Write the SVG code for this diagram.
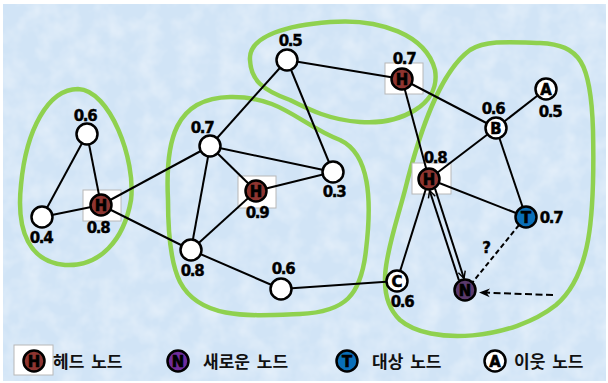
<svg xmlns="http://www.w3.org/2000/svg" width="608" height="383" viewBox="0 0 608 383">
  <style>
    .blob { fill: none; stroke: #8fd14f; stroke-width: 4.5; }
    .edge { stroke: #000; stroke-width: 2; fill: none; }
    .node { fill: #fff; stroke: #000; stroke-width: 2.5; }
    .head { fill: #8e3530; stroke: #000; stroke-width: 2.5; }
    .box { fill: #fff; stroke: #b8b8b8; stroke-width: 1; }
    .lbl { font-family: "DejaVu Sans", "Liberation Sans", sans-serif; font-weight: bold; font-size: 15px; letter-spacing: -1.3px; fill: #000; stroke: #000; stroke-width: 0.4; text-anchor: middle; }
    .ltr { font-family: "DejaVu Sans Condensed", "DejaVu Sans", sans-serif; font-weight: bold; font-size: 16.5px; fill: #000; stroke: #000; stroke-width: 0.6; text-anchor: middle; }
    .legend { font-family: "Noto Sans CJK KR", sans-serif; font-weight: bold; font-size: 17px; word-spacing: 3px; fill: #111; }
  </style>
  <defs>
    <marker id="open" viewBox="0 0 10 10" refX="9" refY="5" markerWidth="9" markerHeight="9" markerUnits="userSpaceOnUse" orient="auto">
      <path d="M1,1 L9,5 L1,9" fill="none" stroke="#000" stroke-width="1.6"/>
    </marker>
    <marker id="solid" viewBox="0 0 10 10" refX="9" refY="5" markerWidth="11" markerHeight="11" markerUnits="userSpaceOnUse" orient="auto">
      <path d="M0,1 L10,5 L0,9 L3,5 Z" fill="#000"/>
    </marker>
    <filter id="grain" x="0" y="0" width="100%" height="100%">
      <feTurbulence type="fractalNoise" baseFrequency="0.05" numOctaves="3" seed="4"/>
      <feColorMatrix type="matrix" values="0 0 0 0 1  0 0 0 0 1  0 0 0 0 1  0 0 0 0.7 -0.25"/>
    </filter>
  </defs>

  <!-- paper background -->
  <rect x="0" y="0" width="608" height="383" fill="#fff"/>
  <rect x="3" y="4" width="603" height="377" fill="#d1e4f6"/>
  <rect x="3" y="4" width="603" height="377" filter="url(#grain)"/>

  <!-- cluster outlines -->
  <g id="clusters">
    <path class="blob" d="M78,89 C48,89 26,130 21,185 C16,232 30,262 65,265 C100,267 124,240 131,200 C136,160 110,90 78,89 Z"/>
    <path class="blob" d="M168,200 C165,140 175,98 230,97 C282,96 300,125 340,140 C370,154 372,200 366,250 C361,296 345,312 300,314 C250,316 200,320 180,282 C170,262 168,232 168,200 Z"/>
    <path class="blob" d="M250,60 C248,35 290,25 330,22 C380,18 426,35 435,70 C441,105 400,125 360,122 C330,120 310,110 290,100 C262,90 251,80 250,60 Z"/>
    <path class="blob" d="M470,50 C440,72 420,130 405,190 C392,240 370,292 400,320 C430,346 512,340 556,305 C590,276 595,220 593,130 C591,62 580,45 540,43 C510,42 486,40 470,50 Z"/>
  </g>

  <!-- white frames behind head nodes -->
  <g id="head-frames">
    <rect class="box" x="83" y="190" width="38" height="31"/>
    <rect class="box" x="238" y="176" width="38" height="32"/>
    <rect class="box" x="385" y="63" width="38" height="31"/>
    <rect class="box" x="412" y="163" width="39" height="31"/>
    <rect class="box" x="14" y="345" width="39" height="30"/>
  </g>

  <!-- connectors -->
  <g id="connectors">
    <line class="edge" x1="87" y1="134" x2="42" y2="217"/>
    <line class="edge" x1="87" y1="134" x2="101" y2="205"/>
    <line class="edge" x1="42" y1="217" x2="101" y2="205"/>
    <line class="edge" x1="101" y1="205" x2="210" y2="146"/>
    <line class="edge" x1="101" y1="205" x2="191" y2="250"/>
    <line class="edge" x1="210" y1="146" x2="333" y2="172"/>
    <line class="edge" x1="210" y1="146" x2="256" y2="191"/>
    <line class="edge" x1="210" y1="146" x2="191" y2="250"/>
    <line class="edge" x1="210" y1="146" x2="287" y2="60"/>
    <line class="edge" x1="191" y1="250" x2="256" y2="191"/>
    <line class="edge" x1="256" y1="191" x2="333" y2="172"/>
    <line class="edge" x1="191" y1="250" x2="281" y2="289"/>
    <line class="edge" x1="281" y1="289" x2="397" y2="281"/>
    <line class="edge" x1="287" y1="60" x2="402" y2="79"/>
    <line class="edge" x1="287" y1="60" x2="333" y2="172"/>
    <line class="edge" x1="402" y1="79" x2="496" y2="128"/>
    <line class="edge" x1="402" y1="79" x2="429" y2="179"/>
    <line class="edge" x1="429" y1="179" x2="496" y2="128"/>
    <line class="edge" x1="429" y1="179" x2="526" y2="217"/>
    <line class="edge" x1="429" y1="179" x2="397" y2="281"/>
    <line class="edge" x1="496" y1="128" x2="546" y2="89"/>
    <line class="edge" x1="496" y1="128" x2="526" y2="217"/>
    <!-- paired links between head 0.8 and the new node -->
    <line class="edge" x1="459" y1="280.5" x2="429.6" y2="190.5" stroke-width="1.8" marker-end="url(#open)"/>
    <line class="edge" x1="435" y1="188.5" x2="464" y2="278.5" stroke-width="1.8" marker-end="url(#open)"/>
    <!-- tentative link and incoming node -->
    <line class="edge" x1="519" y1="225" x2="472" y2="283" stroke-width="2.6" stroke-dasharray="5 3"/>
    <line class="edge" x1="553" y1="295" x2="480" y2="292.5" stroke-width="2.6" stroke-dasharray="7 3.5" marker-end="url(#solid)"/>
  </g>

  <!-- left cluster -->
  <g id="n-l-top"><circle class="node" cx="87" cy="134" r="10.5"/><text class="lbl" x="85" y="121">0.6</text></g>
  <g id="n-l-left"><circle class="node" cx="42" cy="217" r="10.5"/><text class="lbl" x="41" y="243">0.4</text></g>
  <g id="h-left">
    <circle class="head" cx="101" cy="205" r="10.5"/><text class="ltr" x="101" y="211">H</text>
    <text class="lbl" x="98" y="233">0.8</text>
  </g>

  <!-- middle cluster -->
  <g id="n-m-top"><circle class="node" cx="210" cy="146" r="10.5"/><text class="lbl" x="202" y="133">0.7</text></g>
  <g id="h-mid">
    <circle class="head" cx="256" cy="191" r="10.5"/><text class="ltr" x="256" y="197">H</text>
    <text class="lbl" x="257" y="218">0.9</text>
  </g>
  <g id="n-m-right"><circle class="node" cx="333" cy="172" r="10.5"/><text class="lbl" x="334" y="197">0.3</text></g>
  <g id="n-m-bottom"><circle class="node" cx="191" cy="250" r="10.5"/><text class="lbl" x="192" y="276">0.8</text></g>
  <g id="n-m-low"><circle class="node" cx="281" cy="289" r="10.5"/><text class="lbl" x="283" y="274">0.6</text></g>

  <!-- top cluster -->
  <g id="n-t-left"><circle class="node" cx="287" cy="60" r="10.5"/><text class="lbl" x="290" y="46">0.5</text></g>
  <g id="h-top">
    <circle class="head" cx="402" cy="79" r="10.5"/><text class="ltr" x="402" y="85">H</text>
    <text class="lbl" x="404" y="64">0.7</text>
  </g>

  <!-- right cluster -->
  <g id="n-b"><circle class="node" cx="496" cy="128" r="10.5"/><text class="ltr" x="496" y="134">B</text><text class="lbl" x="493" y="114">0.6</text></g>
  <g id="n-a"><circle class="node" cx="546" cy="89" r="10.5"/><text class="ltr" x="546" y="95">A</text><text class="lbl" x="550" y="117">0.5</text></g>
  <g id="h-right">
    <circle class="head" cx="429" cy="179" r="10.5"/><text class="ltr" x="429" y="185">H</text>
    <text class="lbl" x="435" y="163">0.8</text>
  </g>
  <g id="n-t"><circle class="node" cx="526" cy="217" r="10.5" style="fill:#0a6fb8"/><text class="ltr" x="526" y="223">T</text><text class="lbl" x="551" y="223">0.7</text></g>
  <g id="n-c"><circle class="node" cx="397" cy="281" r="10.5"/><text class="ltr" x="397" y="287">C</text><text class="lbl" x="402" y="307">0.6</text></g>
  <g id="n-new"><circle class="node" cx="465" cy="290" r="10.5" style="fill:#5b3a6c"/><text class="ltr" x="465" y="296">N</text></g>
  <text class="lbl" x="486" y="253">?</text>

  <!-- legend -->
  <g id="legend-head">
    <circle class="head" cx="34" cy="361" r="10.5"/><text class="ltr" x="34" y="367">H</text>
    <text class="legend" x="53" y="368">헤드 노드</text>
  </g>
  <g id="legend-new">
    <circle class="node" cx="178" cy="361" r="10.5" style="fill:#6f2c9c"/><text class="ltr" x="178" y="367">N</text>
    <text class="legend" x="203" y="368">새로운 노드</text>
  </g>
  <g id="legend-target">
    <circle class="node" cx="347" cy="361" r="10.5" style="fill:#0a6fb8"/><text class="ltr" x="347" y="367">T</text>
    <text class="legend" x="372" y="368">대상 노드</text>
  </g>
  <g id="legend-neighbor">
    <circle class="node" cx="495" cy="361" r="10.5"/><text class="ltr" x="495" y="367">A</text>
    <text class="legend" x="514" y="368">이웃 노드</text>
  </g>
</svg>
